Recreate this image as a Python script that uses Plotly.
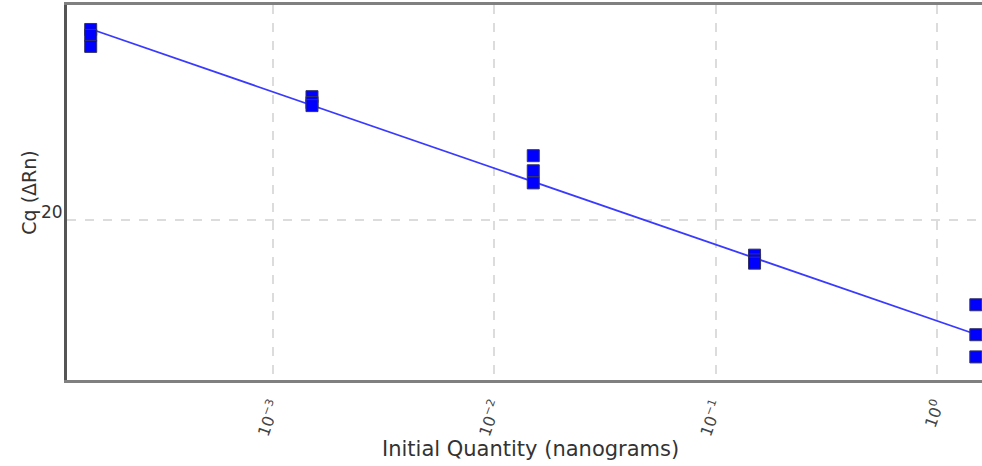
import plotly.graph_objects as go

# Data
quantity = [1.5e-4, 1.5e-4, 1.5e-4,
            1.5e-3, 1.5e-3, 1.5e-3,
            1.5e-2, 1.5e-2, 1.5e-2,
            1.5e-1, 1.5e-1, 1.5e-1,
            1.5, 1.5, 1.5]
cq = [28.33, 28.07, 27.59,
      25.39, 25.13, 25.0,
      22.81, 22.15, 21.62,
      18.46, 18.25, 18.11,
      16.29, 14.98, 14.01]
fit_x = [1.5e-4, 1.5]
fit_y = [28.35, 15.0]

fig = go.Figure()
fig.add_trace(go.Scatter(x=fit_x, y=fit_y, mode="lines",
                         line=dict(color="#3a3aff", width=1.8),
                         hoverinfo="skip", showlegend=False))
fig.add_trace(go.Scatter(x=quantity, y=cq, mode="markers",
                         marker=dict(symbol="square", size=12, color="#0000ff",
                                     line=dict(color="#333366", width=1)),
                         showlegend=False))

font = "DejaVu Sans"
fig.update_layout(
    width=982, height=466,
    margin=dict(l=67, r=0, t=5, b=86),
    paper_bgcolor="white", plot_bgcolor="white",
    font=dict(family=font, color="#333333", size=14),
    xaxis=dict(type="log", range=[-3.931, 0.204],
               tickvals=[1e-3, 1e-2, 1e-1, 1e0],
               ticktext=["10<sup>−3</sup>", "10<sup>−2</sup>", "10<sup>−1</sup>", "10<sup>0</sup>"],
               tickangle=-70, tickfont=dict(size=16, color="#444444"),
               ticklabelstandoff=6,
               showgrid=True, gridcolor="#dcdcdc", gridwidth=2, griddash="dash",
               showline=True, linecolor="#808080", linewidth=3, mirror=True,
               ticks="", zeroline=False),
    yaxis=dict(range=[13.0, 29.4], dtick=10, tick0=0,
               tickfont=dict(size=17, color="#333333"),
               ticklabelshift=-8, ticklabelstandoff=-2,
               showgrid=True, gridcolor="#dcdcdc", gridwidth=2, griddash="dash",
               showline=True, linecolor="#555555", linewidth=3,
               ticks="", zeroline=False,
               title=dict(text="Cq (ΔRn)", font=dict(size=19, color="#333333"), standoff=0)),
    annotations=[dict(text="Initial Quantity (nanograms)", xref="paper", yref="paper",
                      x=0.507, y=-0.184, xanchor="center", yanchor="middle",
                      showarrow=False, font=dict(size=21, color="#333333"))],
)
fig.write_html("out.html")
